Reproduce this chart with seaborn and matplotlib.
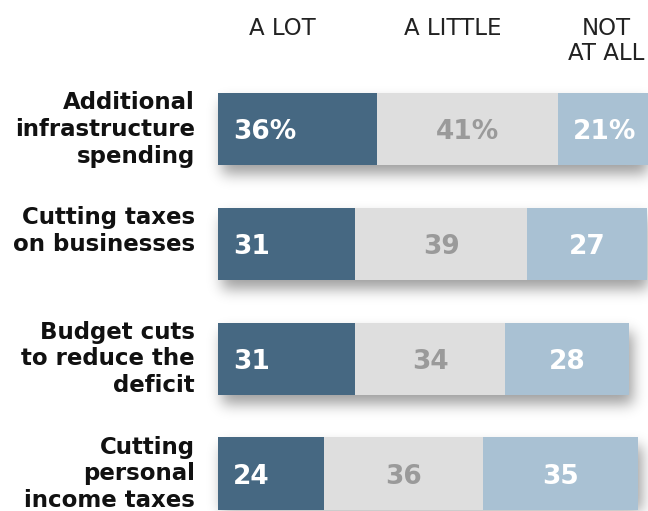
import numpy as np
import pandas as pd
import matplotlib
matplotlib.use("Agg")
import matplotlib.pyplot as plt
import seaborn as sns

# Survey answers (percent) per policy
issues = [
    "Additional\ninfrastructure\nspending",
    "Cutting taxes\non businesses",
    "Budget cuts\nto reduce the\ndeficit",
    "Cutting\npersonal\nincome taxes",
]
a_lot = [36, 31, 31, 24]
a_little = [41, 39, 34, 36]
not_at_all = [21, 27, 28, 35]
headers = ["A LOT", "A LITTLE", "NOT\nAT ALL"]

DARK = "#466882"
GRAY = "#DEDEDE"
LIGHT = "#A9C1D3"
GRAY_TEXT = "#9A9A9A"

sns.set_theme(style="white")
plt.rcParams["font.family"] = ["DejaVu Sans"]

df = pd.DataFrame({"issue": issues, "a_lot": a_lot,
                   "a_little": a_little, "not_at_all": not_at_all})
df["lot_little"] = df["a_lot"] + df["a_little"]
df["total"] = df["lot_little"] + df["not_at_all"]

W_PX, H_PX, DPI = 648, 511, 100
fig = plt.figure(figsize=(W_PX / DPI, H_PX / DPI), dpi=DPI, facecolor="white")
ax = fig.add_axes([218 / W_PX, 0, 430 / W_PX, 1])
ax.set_facecolor("none")

# stacked bars: draw cumulative totals back to front
for col, c in [("total", LIGHT), ("lot_little", GRAY), ("a_lot", DARK)]:
    sns.barplot(data=df, x=col, y="issue", orient="h", color=c,
                saturation=1, width=0.628, linewidth=0, edgecolor="none",
                ax=ax, zorder=2)

ax.set_xlim(0, 430 / 4.42)
ax.set_ylim(3.327, -1.129)
ax.axis("off")

# value labels
for i in range(len(issues)):
    pct = "%" if i == 0 else ""
    lab = dict(fontsize=19, fontweight="bold", va="center_baseline", zorder=5)
    ax.annotate(f"{a_lot[i]}{pct}", xy=(0, i), xytext=(15, 0),
                textcoords="offset pixels", ha="left", color="white", **lab)
    ax.text(a_lot[i] + a_little[i] / 2, i, f"{a_little[i]}{pct}",
            ha="center", color=GRAY_TEXT, **lab)
    ax.text(a_lot[i] + a_little[i] + not_at_all[i] / 2, i,
            f"{not_at_all[i]}{pct}", ha="center", color="white", **lab)
    # category label to the left of each bar
    ax.annotate(issues[i], xy=(0, i), xytext=(-23, 38),
                textcoords="offset pixels", ha="right", va="top",
                multialignment="right", fontsize=16.5, fontweight="bold",
                color="#111111", linespacing=1.2, annotation_clip=False)

# column headers
for txt, xc in zip(headers, [282.5, 452.5, 606]):
    fig.text(xc / W_PX, 1 - 17 / H_PX, txt, ha="center", va="top",
             multialignment="center", fontsize=16.5, color="#222222",
             linespacing=1.12)

# soft drop shadow under each bar
fig.canvas.draw()
mask = np.zeros((H_PX, W_PX))
dx, dy = 4, 9
for p in ax.containers[0]:
    bb = p.get_window_extent()
    x0 = int(round(bb.x0)) + dx
    x1 = int(round(bb.x1)) + dx
    r0 = int(round(H_PX - bb.y1)) + dy
    r1 = int(round(H_PX - bb.y0)) + dy
    mask[max(r0, 0):min(r1, H_PX), max(x0, 0):min(x1, W_PX)] = 1.0

sigma = 7.0
k = np.arange(-24, 25)
kern = np.exp(-k ** 2 / (2 * sigma ** 2))
kern /= kern.sum()
pad = 30
m = np.pad(mask, pad, mode="constant")
m = np.apply_along_axis(lambda r: np.convolve(r, kern, mode="same"), 1, m)
m = np.apply_along_axis(lambda c: np.convolve(c, kern, mode="same"), 0, m)
m = m[pad:-pad, pad:-pad]
shadow = np.zeros((H_PX, W_PX, 4))
shadow[..., 3] = m * 0.38
fig.figimage(shadow, 0, 0, origin="upper", zorder=-1)

fig.savefig("out.png", dpi=DPI, facecolor="white")
